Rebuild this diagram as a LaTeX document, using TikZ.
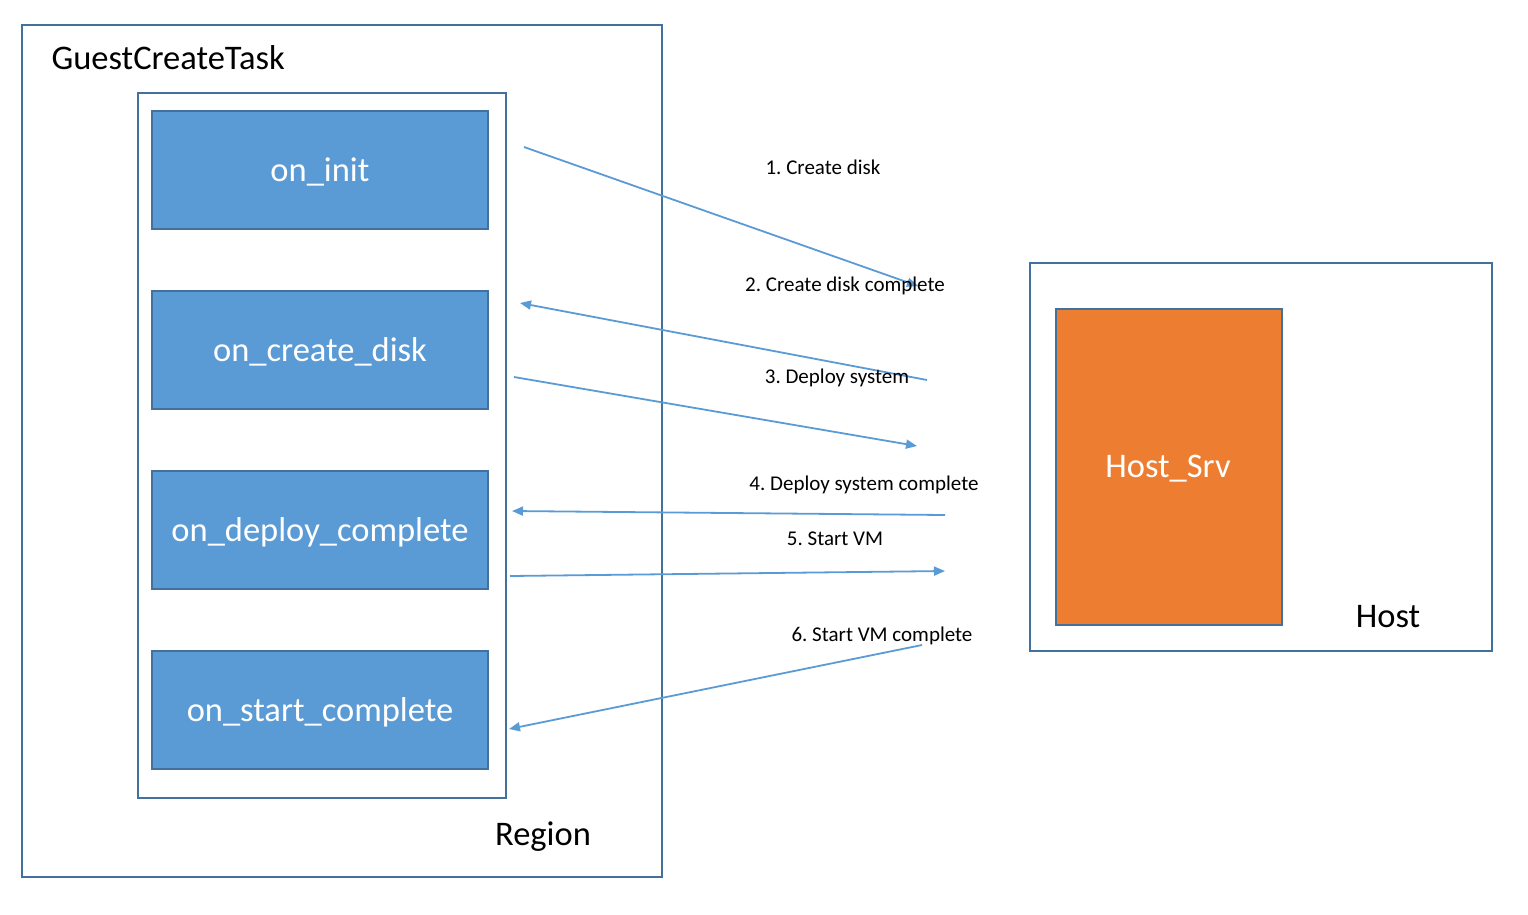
\documentclass[tikz,border=0pt]{standalone}
\usepackage{fontspec}
\setmainfont{Carlito}
\usetikzlibrary{arrows.meta}
\definecolor{edgeblue}{HTML}{41719C}
\definecolor{fillblue}{HTML}{5B9BD5}
\definecolor{arrowblue}{HTML}{5B9BD5}
\definecolor{hostorange}{HTML}{ED7D31}
\tikzset{
  frame/.style={draw=edgeblue, line width=2pt, fill=white},
  stepbox/.style={draw=edgeblue, line width=2pt, fill=fillblue},
  srvbox/.style={draw=edgeblue, line width=2pt, fill=hostorange},
  boxtext/.style={text=white, font=\fontsize{34.5}{40}\selectfont},
  bigtext/.style={text=black, font=\fontsize{34.5}{40}\selectfont},
  lbl/.style={text=black, font=\fontsize{21}{24}\selectfont},
  msg/.style={draw=arrowblue, line width=1.8pt, -{Triangle[length=11pt,width=9pt]}},
}
\frenchspacing
\begin{document}
\begin{tikzpicture}[x=1pt,y=-1pt]
\useasboundingbox (0,0) rectangle (1528,914);
% region frames
\draw[frame] (22,25) rectangle (662,877);
\node[bigtext, anchor=west] (gct) at (48,58) {GuestCreateTask};
\node[bigtext] (region) at (543,837) {Region};
\draw[frame] (138,93) rectangle (506,798);
% step boxes
\draw[stepbox] (152,111) rectangle (488,229);
\node[boxtext] (init) at (320,172) {on\_init};
\draw[stepbox] (152,291) rectangle (488,409);
\node[boxtext] (cdisk) at (320,352) {on\_create\_disk};
\draw[stepbox] (152,471) rectangle (488,589);
\node[boxtext] (deploy) at (320,532) {on\_deploy\_complete};
\draw[stepbox] (152,651) rectangle (488,769);
\node[boxtext] (start) at (320,712) {on\_start\_complete};
% host
\draw[frame] (1030,263) rectangle (1492,651);
\draw[srvbox] (1056,309) rectangle (1282,625);
\node[boxtext] (srv) at (1168,469) {Host\_Srv};
\node[bigtext] (host) at (1388,617) {Host};
% arrow endpoints
\coordinate (a1s) at (524,147); \coordinate (a1e) at (918,286);
\coordinate (a2s) at (927,380); \coordinate (a2e) at (520,303);
\coordinate (a3s) at (514,377); \coordinate (a3e) at (917,446);
\coordinate (a4s) at (945,515); \coordinate (a4e) at (512,511);
\coordinate (a5s) at (510,576); \coordinate (a5e) at (945,571);
\coordinate (a6s) at (922,645); \coordinate (a6e) at (509,729);
\draw[msg] (a1s) -- (a1e);
\draw[msg] (a2s) -- (a2e);
\draw[msg] (a3s) -- (a3e);
\draw[msg] (a4s) -- (a4e);
\draw[msg] (a5s) -- (a5e);
\draw[msg] (a6s) -- (a6e);
% labels
\node[lbl] (l1) at (823,167) {1. Create disk};
\node[lbl] (l2) at (845,286) {2. Create disk complete};
\node[lbl] (l3) at (837,378) {3. Deploy system};
\node[lbl] (l4) at (864,485) {4. Deploy system complete};
\node[lbl] (l5) at (835,539) {5. Start VM};
\node[lbl] (l6) at (882,636) {6. Start VM complete};
\end{tikzpicture}
\end{document}
